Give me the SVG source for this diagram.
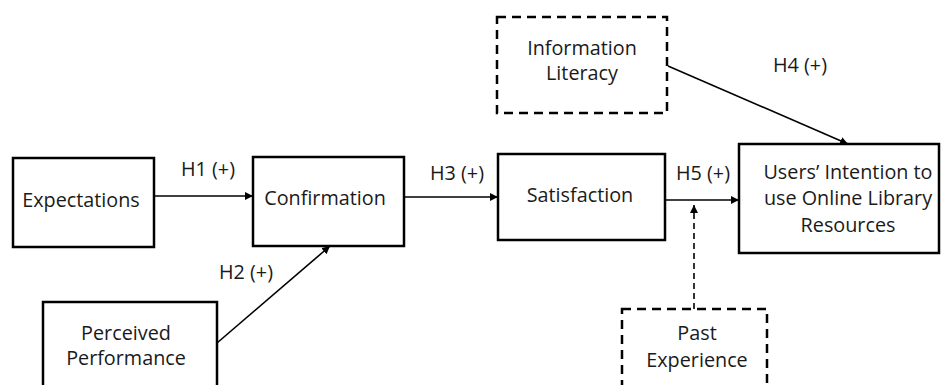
<svg xmlns="http://www.w3.org/2000/svg" width="944" height="385" viewBox="0 0 944 385">
<defs>
<marker id="ah" viewBox="0 0 10 10" refX="10" refY="5" markerWidth="8" markerHeight="8" markerUnits="userSpaceOnUse" orient="auto">
<path d="M0,0 L10,5 L0,10 z" fill="#000"/>
</marker>
</defs>
<style>
.box{fill:#fff;stroke:#000;stroke-width:2.5}
.dbox{fill:#fff;stroke:#000;stroke-width:2.5;stroke-dasharray:9 6}
.t{font-family:"Open Sans","Liberation Sans",sans-serif;font-size:19.8px;fill:#1a1a1a;text-anchor:middle}
.ln{stroke:#000;stroke-width:1.6;fill:none}
</style>
<rect width="944" height="385" fill="#fff"/>
<g id="connectors">
<line class="ln" x1="154" y1="196" x2="253" y2="196" marker-end="url(#ah)"/>
<line class="ln" x1="217" y1="343" x2="330" y2="246" marker-end="url(#ah)"/>
<line class="ln" x1="404" y1="197" x2="498" y2="197" marker-end="url(#ah)"/>
<line class="ln" x1="668" y1="66" x2="848" y2="144" marker-end="url(#ah)"/>
<line class="ln" x1="665" y1="200" x2="739" y2="200" marker-end="url(#ah)"/>
<line class="ln" x1="694" y1="309" x2="694" y2="205" stroke-dasharray="6 4" marker-end="url(#ah)"/>
<text class="t" x="208" y="176">H1 (+)</text>
<text class="t" x="246" y="279">H2 (+)</text>
<text class="t" x="457" y="180">H3 (+)</text>
<text class="t" x="800" y="72">H4 (+)</text>
<text class="t" x="703" y="180">H5 (+)</text>
</g>
<g id="expectations">
<rect class="box" x="13" y="158" width="141" height="89"/>
<text class="t" x="81" y="207">Expectations</text>
</g>
<g id="confirmation">
<rect class="box" x="253" y="157" width="151" height="89"/>
<text class="t" x="325" y="205">Confirmation</text>
</g>
<g id="satisfaction">
<rect class="box" x="498" y="154" width="167" height="86"/>
<text class="t" x="580" y="202">Satisfaction</text>
</g>
<g id="intention">
<rect class="box" x="739" y="144" width="200" height="109"/>
<text class="t" x="848" y="179">Users’ Intention to</text>
<text class="t" x="848" y="205">use Online Library</text>
<text class="t" x="848" y="232">Resources</text>
</g>
<g id="information-literacy">
<rect class="dbox" x="497" y="17" width="170" height="96"/>
<text class="t" x="582" y="55">Information</text>
<text class="t" x="582" y="80">Literacy</text>
</g>
<g id="past-experience">
<rect class="dbox" x="622" y="309" width="145" height="90"/>
<text class="t" x="697" y="340">Past</text>
<text class="t" x="697" y="367">Experience</text>
</g>
<g id="perceived-performance">
<rect class="box" x="43" y="302" width="174" height="95"/>
<text class="t" x="126" y="340">Perceived</text>
<text class="t" x="126" y="365">Performance</text>
</g>
</svg>
